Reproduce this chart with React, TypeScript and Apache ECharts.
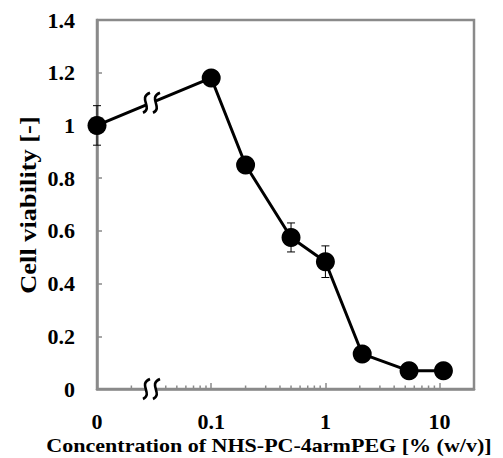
import { useEffect, useRef } from 'react';
import * as echarts from 'echarts';

// ---- data ----
const concentrations = [0, 0.1, 0.2, 0.5, 1, 2.1, 5.4, 10.8];
const viability = [1.0, 1.18, 0.85, 0.575, 0.483, 0.133, 0.069, 0.069];
const errors = [0.075, 0.02, 0.02, 0.055, 0.06, 0.015, 0.01, 0.01];

const xMajorTickLabels: Record<string, string> = { '0.01': '0', '0.1': '0.1', '1': '1', '10': '10' };
const xMinorTicks = [
  0.02, 0.03, 0.04, 0.05, 0.06, 0.07, 0.08, 0.09,
  0.2, 0.3, 0.4, 0.5, 0.6, 0.7, 0.8, 0.9,
  2, 3, 4, 5, 6, 7, 8, 9,
];
const ZERO_POSITION = 0.01; // where concentration 0 is placed on the log axis
const X_MAX = 20;
const BREAK_AT = 0.03;

const xTitle = 'Concentration of NHS-PC-4armPEG [% (w/v)]';
const yTitle = 'Cell viability [-]';

const AXIS_GRAY = '#8a8a8a';
const FONT = '"Liberation Serif", "Times New Roman", serif';

const S_LEFT = 'M-1.5,-10 C-14,-5 2,5 -8.5,10';
const S_RIGHT = 'M8.5,-10 C-4,-5 12,5 1.5,10';
const S_FILL = 'M-1.5,-10 C-14,-5 2,5 -8.5,10 L1.5,10 C12,5 -4,-5 8.5,-10 Z';

export default function App() {
  const ref = useRef<HTMLDivElement>(null);
  useEffect(() => {
    if (!ref.current) return;
    const chart = echarts.init(ref.current, null, { renderer: 'svg' });

    const pos = (c: number) => (c === 0 ? ZERO_POSITION : c);
    const lineData = concentrations.map((c, i) => [pos(c), viability[i]]);
    const errData = concentrations.map((c, i) => [pos(c), viability[i], errors[i]]);

    const p0 = pos(concentrations[0]);
    const p1 = pos(concentrations[1]);
    const t = (Math.log10(BREAK_AT) - Math.log10(p0)) / (Math.log10(p1) - Math.log10(p0));
    const breakY = viability[0] + t * (viability[1] - viability[0]);

    const fmt = (v: number) => {
      for (const k of Object.keys(xMajorTickLabels)) {
        if (Math.abs(v - Number(k)) < 1e-9 * Math.max(1, Number(k))) return xMajorTickLabels[k];
      }
      return '';
    };

    chart.setOption({
      animation: false,
      backgroundColor: '#ffffff',
      grid: {
        left: 97,
        right: 29,
        top: 20,
        bottom: 69,
        show: true,
        borderColor: AXIS_GRAY,
        borderWidth: 2.5,
        backgroundColor: 'transparent',
      },
      xAxis: {
        type: 'log',
        logBase: 10,
        min: ZERO_POSITION,
        max: X_MAX,
        axisLine: { show: true, lineStyle: { color: AXIS_GRAY, width: 2.5 } },
        axisTick: { show: true, inside: true, length: 6, lineStyle: { color: AXIS_GRAY, width: 1.5 } },
        minorTick: { show: false },
        splitLine: { show: false },
        axisLabel: {
          formatter: fmt,
          margin: 21,
          color: '#000',
          fontFamily: FONT,
          fontWeight: 'bold',
          fontSize: 22,
          showMaxLabel: false,
        },
      },
      yAxis: {
        type: 'value',
        min: 0,
        max: 1.4,
        interval: 0.2,
        axisLine: { show: true, lineStyle: { color: AXIS_GRAY, width: 2.5 } },
        axisTick: { show: true, inside: true, length: 5, lineStyle: { color: AXIS_GRAY, width: 1.5 } },
        splitLine: { show: false },
        axisLabel: {
          margin: 22,
          color: '#000',
          fontFamily: FONT,
          fontWeight: 'bold',
          fontSize: 22,
        },
      },
      graphic: [
        {
          type: 'text',
          x: 269,
          y: 446,
          scaleX: 1.16,
          style: {
            text: xTitle,
            fontFamily: FONT,
            fontWeight: 'bold',
            fontSize: 19,
            fill: '#000',
            align: 'center',
            verticalAlign: 'middle',
          },
        },
        {
          type: 'text',
          x: 28,
          y: 205,
          rotation: Math.PI / 2,
          scaleX: 1.1,
          style: {
            text: yTitle,
            fontFamily: FONT,
            fontWeight: 'bold',
            fontSize: 24,
            fill: '#000',
            align: 'center',
            verticalAlign: 'middle',
          },
        },
      ],
      series: [
        {
          type: 'custom',
          name: 'minorTicks',
          clip: false,
          z: 1,
          silent: true,
          data: xMinorTicks.map((v) => [v, 0]),
          renderItem: (_p: any, api: any) => {
            const c = api.coord([api.value(0), 0]);
            return {
              type: 'line',
              shape: { x1: c[0], y1: c[1], x2: c[0], y2: c[1] - 3.5 },
              style: { stroke: AXIS_GRAY, lineWidth: 1.5 },
            };
          },
        },
        {
          type: 'custom',
          name: 'errors',
          clip: false,
          z: 2,
          silent: true,
          data: errData,
          renderItem: (_p: any, api: any) => {
            const x = api.value(0);
            const y = api.value(1);
            const e = api.value(2);
            const top = api.coord([x, y + e]);
            const bot = api.coord([x, y - e]);
            const cap = 4;
            const st = { stroke: '#000', lineWidth: 1 };
            return {
              type: 'group',
              children: [
                { type: 'line', shape: { x1: top[0], y1: top[1], x2: bot[0], y2: bot[1] }, style: st },
                { type: 'line', shape: { x1: top[0] - cap, y1: top[1], x2: top[0] + cap, y2: top[1] }, style: st },
                { type: 'line', shape: { x1: bot[0] - cap, y1: bot[1], x2: bot[0] + cap, y2: bot[1] }, style: st },
              ],
            };
          },
        },
        {
          type: 'line',
          name: 'viability',
          data: lineData,
          clip: false,
          z: 3,
          symbol: 'circle',
          symbolSize: 19,
          itemStyle: { color: '#000' },
          lineStyle: { color: '#000', width: 3 },
        },
        {
          type: 'custom',
          name: 'breaks',
          clip: false,
          z: 5,
          silent: true,
          data: [
            [BREAK_AT, 0],
            [BREAK_AT, breakY],
          ],
          renderItem: (_p: any, api: any) => {
            const c = api.coord([api.value(0), api.value(1)]);
            return {
              type: 'group',
              x: c[0],
              y: c[1],
              children: [
                { type: 'path', shape: { pathData: S_FILL }, style: { fill: '#fff', stroke: null } },
                { type: 'path', shape: { pathData: S_LEFT }, style: { fill: null, stroke: '#000', lineWidth: 2.6 } },
                { type: 'path', shape: { pathData: S_RIGHT }, style: { fill: null, stroke: '#000', lineWidth: 2.6 } },
              ],
            };
          },
        },
      ],
    });
    return () => chart.dispose();
  }, []);
  return <div ref={ref} style={{ position: 'fixed', left: 0, top: 0, width: 503, height: 458 }} />;
}
